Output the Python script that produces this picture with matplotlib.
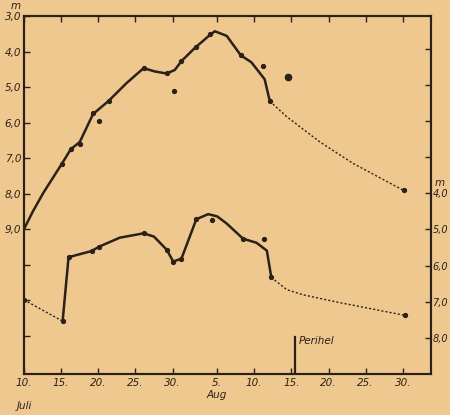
import matplotlib
matplotlib.use('Agg')
import matplotlib.pyplot as plt
import matplotlib.transforms as mtransforms

# Tage ab 10. Juli (10. Juli = 0, 1. Aug = 22)
tick_days = [0, 5, 10, 15, 20, 26, 31, 36, 41, 46, 51]
tick_labels = ['10.', '15.', '20.', '25.', '30.', '5.', '10.', '15.', '20.', '25.', '30.']

left_ticks = [3, 4, 5, 6, 7, 8, 9, 10, 11, 12]
left_labels = ['3,0', '4,0', '5,0', '6,0', '7,0', '8,0', '9,0', '', '', '']
right_ticks = [0, 1, 2, 3, 4, 5, 6, 7, 8]
right_labels = ['', '', '', '', '4,0', '5,0', '6,0', '7,0', '8,0']

# obere Kurve (linke Skala)
upper_curve_day = [0, 1.2, 2.6, 5.1, 6.3, 7.5, 9.3, 11.4, 13.8, 16.1, 17.6, 19.2, 20.3,
                   21.2, 23.0, 25.0, 25.7, 27.3, 29.2, 30.6, 32.4, 33.1]
upper_curve_mag = [9.0, 8.5, 7.98, 7.16, 6.75, 6.55, 5.76, 5.39, 4.89, 4.47, 4.56, 4.62, 4.52,
                   4.27, 3.90, 3.54, 3.43, 3.56, 4.11, 4.30, 4.78, 5.40]
upper_dash_day = [33.1, 35.4, 37.6, 39.8, 44.3, 51.1]
upper_dash_mag = [5.40, 5.84, 6.19, 6.54, 7.15, 7.91]
upper_obs_day = [5.1, 6.3, 7.5, 9.3, 10.1, 11.4, 16.1, 19.3, 20.2, 21.2, 23.1, 25.0,
                 29.2, 32.2, 33.1, 51.1]
upper_obs_mag = [7.16, 6.75, 6.60, 5.74, 5.97, 5.39, 4.47, 4.61, 5.12, 4.26, 3.88, 3.52,
                 4.09, 4.40, 5.40, 7.91]
big_day = [35.6]
big_mag = [4.72]

# untere Kurve (rechte Skala)
lower_dash1_day = [0, 5.2]
lower_dash1_mag = [6.95, 7.54]
lower_curve_day = [5.2, 6.0, 9.1, 10.1, 12.9, 16.1, 17.5, 19.2, 20.1, 21.2, 23.2, 24.8,
                   26.0, 27.3, 29.5, 31.3, 32.7, 33.3]
lower_curve_mag = [7.54, 5.77, 5.60, 5.48, 5.23, 5.11, 5.20, 5.56, 5.89, 5.81, 4.72, 4.58,
                   4.64, 4.84, 5.26, 5.37, 5.59, 6.33]
lower_dash2_day = [33.3, 35.4, 37.6, 42.1, 46.6, 51.3]
lower_dash2_mag = [6.33, 6.67, 6.81, 7.01, 7.19, 7.38]
lower_obs_day = [0, 5.2, 6.0, 9.1, 10.1, 16.1, 19.2, 20.1, 21.2, 23.2, 25.3, 29.5, 32.3,
                 33.3, 51.3]
lower_obs_mag = [6.95, 7.54, 5.77, 5.60, 5.48, 5.11, 5.56, 5.89, 5.81, 4.72, 4.74, 5.26, 5.28,
                 6.33, 7.38]

perihel_day = 36.5

paper = '#efc890'
ink = '#2b2118'
plt.rcParams['font.family'] = ['DejaVu Sans']

fig = plt.figure(figsize=(4.5, 4.15), dpi=100, facecolor=paper)
ax = fig.add_axes([24 / 450, 1 - 374 / 415, 407 / 450, 358 / 415])
ax.set_facecolor(paper)
ax2 = ax.twinx()

ax.set_xlim(0, 54.8)
ax.set_ylim(13.08, 3.0)
ax2.set_ylim(9.0, -0.9)

ax.plot(upper_curve_day, upper_curve_mag, color=ink, lw=1.8, solid_joinstyle='round')
ax.plot(upper_dash_day, upper_dash_mag, color=ink, lw=1.0, ls=(0, (1.5, 1.5)))
ax.plot(upper_obs_day, upper_obs_mag, 'o', color=ink, ms=2.8)
ax.plot(big_day, big_mag, 'o', color=ink, ms=4.5)

ax2.plot(lower_curve_day, lower_curve_mag, color=ink, lw=1.8, solid_joinstyle='round')
ax2.plot(lower_dash1_day, lower_dash1_mag, color=ink, lw=1.0, ls=(0, (1.5, 1.5)))
ax2.plot(lower_dash2_day, lower_dash2_mag, color=ink, lw=1.0, ls=(0, (1.5, 1.5)))
ax2.plot(lower_obs_day, lower_obs_mag, 'o', color=ink, ms=2.8)

# Perihel
ax.plot([perihel_day, perihel_day], [13.08, 12.05], color=ink, lw=1.6)
ax.text(perihel_day + 0.5, 12.15, 'Perihel', fontsize=7.5, style='italic', color=ink,
        va='center', ha='left')

for a in (ax, ax2):
    for s in a.spines.values():
        s.set_color(ink)
        s.set_linewidth(1.5)

ax.set_xticks(tick_days)
ax.set_xticklabels(tick_labels, fontsize=7.5, style='italic', color=ink)
ax.tick_params(axis='x', direction='in', length=4, width=1, color=ink, top=True, pad=3)
ax.set_yticks(left_ticks)
ax.set_yticklabels(left_labels, fontsize=7.5, style='italic', color=ink)
ax.tick_params(axis='y', direction='in', length=4, width=1, color=ink, pad=2)
ax2.set_yticks(right_ticks)
ax2.set_yticklabels(right_labels, fontsize=7, style='italic', color=ink)
ax2.tick_params(axis='y', direction='in', length=4, width=1, color=ink, pad=1)

trans = mtransforms.blended_transform_factory(ax.transData, ax.transAxes)
ax.text(0, -0.075, 'Juli', transform=trans, fontsize=7.5, style='italic', color=ink,
        ha='center', va='top')
ax.text(26, -0.045, 'Aug', transform=trans, fontsize=7.5, style='italic', color=ink,
        ha='center', va='top')
ax.text(-0.5, 1.015, 'm', transform=trans, fontsize=7.5, style='italic', color=ink,
        ha='right', va='bottom')
trans2 = mtransforms.blended_transform_factory(ax2.transAxes, ax2.transData)
ax2.text(1.01, 3.85, 'm', transform=trans2, fontsize=7.5, style='italic', color=ink,
         ha='left', va='bottom')

fig.savefig('out.png', dpi=100, facecolor=paper)
